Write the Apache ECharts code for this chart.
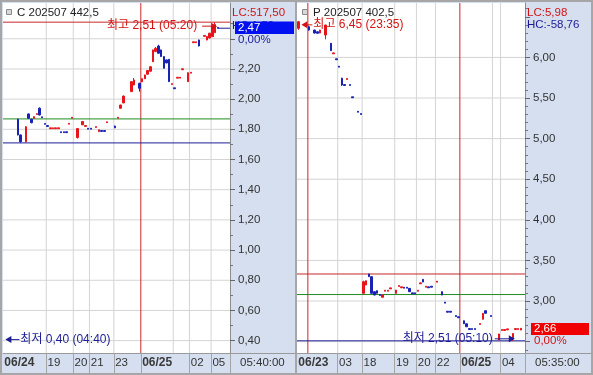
<!DOCTYPE html>
<html>
<head>
<meta charset="utf-8">
<script src="https://cdn.jsdelivr.net/npm/echarts@6.0.0/dist/echarts.min.js"></script>
<style>
html,body{margin:0;padding:0;overflow:hidden;background:#d5dfef;}
#chart{width:593px;height:375px;}
</style>
</head>
<body>
<div id="chart"></div>
<script>
// ---------------- data ----------------
const leftTitle = 'C 202507 442,5';
const rightTitle = 'P 202507 402,5';
const leftLC = 'LC:517,50', leftHC = 'HC:1,50';
const rightLC = 'LC:5,98', rightHC = 'HC:-58,76';
const leftPct = '0,00%', rightPct = '0,00%';
const leftTimeCell = '05:40:00', rightTimeCell = '05:35:00';

const leftSlotCount = 84;
const rightSlotCount = 84;

// [slot, open, close, low, high]
const leftCandles = [
 [5, 1.867, 1.763, 1.760, 1.870],
 [6, 1.763, 1.718, 1.710, 1.765],
 [8, 1.718, 1.817, 1.710, 1.820],
 [9, 1.902, 1.873, 1.870, 1.905],
 [10, 1.867, 1.844, 1.840, 1.870],
 [11, 1.873, 1.884, 1.870, 1.886],
 [12, 1.898, 1.904, 1.898, 1.904],
 [13, 1.940, 1.895, 1.893, 1.945],
 [14, 1.883, 1.877, 1.877, 1.883],
 [15, 1.839, 1.833, 1.833, 1.839],
 [16, 1.825, 1.819, 1.819, 1.825],
 [17, 1.804, 1.810, 1.804, 1.810],
 [18, 1.804, 1.810, 1.804, 1.810],
 [19, 1.804, 1.810, 1.804, 1.810],
 [20, 1.804, 1.810, 1.804, 1.810],
 [21, 1.784, 1.778, 1.778, 1.784],
 [22, 1.784, 1.778, 1.778, 1.784],
 [23, 1.784, 1.778, 1.778, 1.784],
 [24, 1.834, 1.840, 1.834, 1.840],
 [25, 1.874, 1.880, 1.874, 1.880],
 [27, 1.745, 1.805, 1.740, 1.807],
 [29, 1.830, 1.852, 1.828, 1.855],
 [30, 1.819, 1.825, 1.819, 1.825],
 [31, 1.807, 1.801, 1.801, 1.807],
 [32, 1.807, 1.801, 1.801, 1.807],
 [34, 1.812, 1.818, 1.812, 1.818],
 [35, 1.785, 1.797, 1.785, 1.797],
 [36, 1.792, 1.786, 1.786, 1.792],
 [37, 1.792, 1.786, 1.786, 1.792],
 [38, 1.844, 1.850, 1.844, 1.850],
 [41, 1.822, 1.810, 1.808, 1.824],
 [42, 1.874, 1.880, 1.874, 1.880],
 [43, 1.940, 1.961, 1.938, 1.963],
 [44, 1.975, 2.020, 1.973, 2.024],
 [47, 2.050, 2.116, 2.048, 2.118],
 [48, 2.094, 2.127, 2.092, 2.140],
 [50, 2.105, 2.072, 2.050, 2.108],
 [51, 2.115, 2.135, 2.113, 2.137],
 [52, 2.135, 2.160, 2.133, 2.162],
 [53, 2.165, 2.190, 2.163, 2.192],
 [54, 2.185, 2.215, 2.183, 2.217],
 [55, 2.248, 2.326, 2.246, 2.328],
 [56, 2.315, 2.337, 2.313, 2.345],
 [57, 2.352, 2.304, 2.302, 2.360],
 [58, 2.326, 2.282, 2.280, 2.328],
 [59, 2.282, 2.205, 2.203, 2.284],
 [60, 2.260, 2.240, 2.238, 2.262],
 [61, 2.264, 2.116, 2.114, 2.266],
 [62, 2.097, 2.103, 2.097, 2.103],
 [63, 2.075, 2.069, 2.069, 2.075],
 [64, 2.139, 2.145, 2.139, 2.145],
 [65, 2.139, 2.145, 2.139, 2.145],
 [66, 2.195, 2.201, 2.195, 2.201],
 [68, 2.116, 2.175, 2.114, 2.177],
 [69, 2.172, 2.178, 2.172, 2.178],
 [70, 2.374, 2.380, 2.374, 2.380],
 [71, 2.374, 2.380, 2.374, 2.380],
 [72, 2.392, 2.352, 2.350, 2.394],
 [74, 2.416, 2.422, 2.416, 2.422],
 [75, 2.392, 2.415, 2.390, 2.417],
 [76, 2.405, 2.437, 2.403, 2.439],
 [77, 2.414, 2.480, 2.412, 2.482],
 [78, 2.440, 2.495, 2.438, 2.510],
 [79, 2.475, 2.470, 2.468, 2.477]
];

const rightCandles = [
 [0, 6.358, 6.440, 6.340, 6.450],
 [4, 6.378, 6.337, 6.330, 6.390],
 [6, 6.337, 6.300, 6.295, 6.340],
 [7, 6.316, 6.297, 6.295, 6.318],
 [8, 6.300, 6.337, 6.298, 6.340],
 [10, 6.276, 6.399, 6.223, 6.402],
 [12, 6.174, 6.083, 6.080, 6.177],
 [13, 6.044, 6.056, 6.044, 6.056],
 [14, 5.983, 5.971, 5.971, 5.983],
 [15, 5.892, 5.880, 5.880, 5.892],
 [16, 5.743, 5.660, 5.650, 5.750],
 [17, 5.666, 5.654, 5.654, 5.666],
 [18, 5.728, 5.740, 5.728, 5.740],
 [19, 5.666, 5.654, 5.654, 5.666],
 [20, 5.515, 5.503, 5.503, 5.515],
 [22, 5.337, 5.325, 5.325, 5.337],
 [23, 5.309, 5.297, 5.297, 5.309],
 [24, 3.095, 3.238, 3.093, 3.250],
 [25, 3.197, 3.250, 3.195, 3.252],
 [26, 3.333, 3.300, 3.298, 3.335],
 [27, 3.300, 3.095, 3.093, 3.302],
 [28, 3.115, 3.074, 3.072, 3.117],
 [29, 3.127, 3.095, 3.093, 3.129],
 [30, 3.080, 3.068, 3.068, 3.080],
 [31, 3.046, 3.074, 3.044, 3.076],
 [32, 3.121, 3.133, 3.121, 3.133],
 [33, 3.121, 3.133, 3.121, 3.133],
 [34, 3.150, 3.162, 3.150, 3.162],
 [36, 3.095, 3.135, 3.093, 3.137],
 [37, 3.179, 3.191, 3.179, 3.191],
 [38, 3.163, 3.175, 3.163, 3.175],
 [39, 3.170, 3.158, 3.158, 3.170],
 [40, 3.170, 3.158, 3.158, 3.170],
 [41, 3.156, 3.115, 3.113, 3.158],
 [42, 3.101, 3.089, 3.089, 3.101],
 [43, 3.101, 3.089, 3.089, 3.101],
 [44, 3.121, 3.133, 3.121, 3.133],
 [45, 3.212, 3.224, 3.212, 3.224],
 [46, 3.267, 3.234, 3.232, 3.269],
 [47, 3.170, 3.182, 3.170, 3.182],
 [48, 3.175, 3.163, 3.163, 3.175],
 [49, 3.182, 3.170, 3.170, 3.182],
 [51, 3.232, 3.244, 3.232, 3.244],
 [53, 3.115, 3.074, 3.072, 3.117],
 [54, 2.986, 2.974, 2.974, 2.986],
 [55, 2.874, 2.862, 2.862, 2.874],
 [56, 2.874, 2.862, 2.862, 2.874],
 [58, 2.821, 2.809, 2.809, 2.821],
 [59, 2.806, 2.794, 2.794, 2.806],
 [61, 2.757, 2.720, 2.718, 2.759],
 [62, 2.720, 2.683, 2.681, 2.722],
 [63, 2.661, 2.649, 2.649, 2.661],
 [64, 2.661, 2.649, 2.649, 2.661],
 [65, 2.661, 2.649, 2.649, 2.661],
 [67, 2.711, 2.723, 2.711, 2.723],
 [68, 2.775, 2.849, 2.773, 2.851],
 [69, 2.881, 2.849, 2.847, 2.883],
 [71, 2.821, 2.809, 2.809, 2.821],
 [74, 2.520, 2.594, 2.518, 2.596],
 [75, 2.637, 2.649, 2.637, 2.649],
 [76, 2.637, 2.649, 2.637, 2.649],
 [77, 2.645, 2.657, 2.645, 2.657],
 [79, 2.530, 2.600, 2.510, 2.602],
 [80, 2.649, 2.661, 2.649, 2.661],
 [81, 2.649, 2.661, 2.649, 2.661],
 [82, 2.643, 2.664, 2.641, 2.666]
];

// x-axis tick labels (slot -> text), separators and grid lines (slot boundaries)
const leftXLabels = {0: '06/24', 16: '19', 26: '20', 32: '21', 41: '23', 51: '06/25', 69: '02', 77: '05'};
const rightXLabels = {0: '06/23', 15: '03', 24: '18', 36: '19', 44: '20', 51: '22', 60: '06/25', 75: '04'};
const boldLabels = ['06/23', '06/24', '06/25'];
const leftStripTicks = [16, 26, 32, 41, 51, 69, 77];
const rightStripTicks = [15, 24, 36, 44, 51, 60, 75];
const leftGridX = [16, 26, 32, 41, 63, 69, 77];
const rightGridX = [15, 24, 36, 44, 51, 72, 75];
const leftDayLines = [51];
const rightDayLines = [4, 60];

// y axes
const leftYMin = 0.318, leftYMax = 2.637;
const rightYMin = 2.36, rightYMax = 6.67;
const leftYLabels = [0.4, 0.6, 0.8, 1.0, 1.2, 1.4, 1.6, 1.8, 2.0, 2.2];
const leftYMajor = [0.4, 0.6, 0.8, 1.0, 1.2, 1.4, 1.6, 1.8, 2.0, 2.2, 2.4];
const leftYMinor = [0.5, 0.7, 0.9, 1.1, 1.3, 1.5, 1.7, 1.9, 2.1, 2.3, 2.5];
const leftGridY = [0.4, 0.6, 0.8, 1.0, 1.2, 1.4, 1.6, 1.8, 2.0, 2.2, 2.4];
const rightYLabels = [3.0, 3.5, 4.0, 4.5, 5.0, 5.5, 6.0];
const rightYMajor = [2.5, 3.0, 3.5, 4.0, 4.5, 5.0, 5.5, 6.0, 6.5];
const rightYMinor = [2.4, 2.6, 2.7, 2.8, 2.9, 3.1, 3.2, 3.3, 3.4, 3.6, 3.7, 3.8, 3.9, 4.1, 4.2, 4.3, 4.4,
  4.6, 4.7, 4.8, 4.9, 5.1, 5.2, 5.3, 5.4, 5.6, 5.7, 5.8, 5.9, 6.1, 6.2, 6.3, 6.4, 6.6];
const rightGridY = [2.5, 3.0, 3.5, 4.0, 4.5, 5.0, 5.5, 6.0];

// reference lines and annotations
const leftLevels = {high: 2.51, mid: 1.869, low: 1.71};
const rightLevels = {high: 3.333, mid: 3.08, low: 2.51};
const leftLast = 2.47, rightLast = 2.66;
const leftLastFrom = 79;
const leftHigh = {slot: 78, value: 2.51, text: '최고 2,51 (05:20)'};
const leftLow = {slot: 0, value: 0.40, text: '최저 0,40 (04:40)'};
const rightHigh = {slot: 0, value: 6.45, text: '최고 6,45 (23:35)'};
const rightLow = {slot: 79, value: 2.51, text: '최저 2,51 (05:10)'};

// ---------------- style ----------------
function hasFont(name) {
  const c = document.createElement('canvas').getContext('2d');
  const s = 'abcdefghijklmnopqrstuvwxyz0123456789,:';
  let diff = false;
  ['monospace', 'serif'].forEach(function (fb) {
    c.font = '30px ' + fb; const a = c.measureText(s).width;
    c.font = '30px "' + name + '", ' + fb; const b = c.measureText(s).width;
    if (a !== b) diff = true;
  });
  return diff;
}
const NARROW = hasFont('Liberation Sans Narrow');
const FAM = NARROW ? '"Liberation Sans Narrow", "Noto Sans CJK KR", sans-serif'
                   : '"Liberation Sans", "Noto Sans CJK KR", sans-serif';
const FS = NARROW ? 13 : 11.5;
const FONT = FS + 'px ' + FAM;
const FONT_HEAD = (NARROW ? 13 : 11.5) + 'px ' + FAM;
const FONT_ANN = (NARROW ? 13 : 12) + 'px ' + FAM;
const BOLD_FAM = '"Liberation Sans", "Noto Sans CJK KR", sans-serif';

const UP = '#e8141c', DOWN = '#1a22b4';
const GRID_C = '#d4d4d4';
const RED_LINE = '#c8282a', GREEN_LINE = '#228b22', NAVY_LINE = '#1e1e9a';
const TXT = '#333333', RED_TXT = '#d41414', NAVY_TXT = '#1c1c96';
const BG = '#d5dfef';

function toSeriesData(list, count) {
  const out = [];
  for (let i = 0; i < count; i++) out.push(['-', '-', '-', '-']);
  list.forEach(function (r) { out[r[0]] = [r[1], r[2], r[3], r[4]]; });
  return out;
}
function slotNames(count) { const a = []; for (let i = 0; i < count; i++) a.push(String(i)); return a; }
const fmt = function (v) { return v.toFixed(2).replace('.', ','); };

function catAxis(gridIndex, count, labels, stripTicks) {
  return {
    type: 'category', gridIndex: gridIndex, data: slotNames(count), boundaryGap: true,
    axisLine: {show: true, onZero: false, lineStyle: {color: '#9a9a9a', width: 1}},
    axisTick: {show: true, length: 20, interval: function (i) { return stripTicks.indexOf(i) >= 0; },
      lineStyle: {color: '#a4a4a4'}},
    axisLabel: {
      show: true, interval: function (i) { return labels[i] !== undefined; },
      formatter: function (v, i) { const t = labels[i]; return boldLabels.indexOf(t) >= 0 ? '{b|' + t + '}' : t; },
      align: 'left', margin: 4, color: TXT, fontFamily: FAM, fontSize: FS,
      rich: {b: {fontFamily: BOLD_FAM, fontWeight: 'bold', fontSize: 12, color: '#3a3a3a'}}
    },
    splitLine: {show: false}
  };
}
function valXAxis(gridIndex, count) {
  return {type: 'value', gridIndex: gridIndex, min: 0, max: count, show: false,
    axisLine: {onZero: false}, splitLine: {show: false}};
}
function yMajor(gridIndex, min, max, ticks, labels) {
  return {
    type: 'value', gridIndex: gridIndex, position: 'right', min: min, max: max, scale: true,
    axisLine: {show: true, onZero: false, lineStyle: {color: '#8c8c8c'}},
    axisTick: {show: true, length: 5, customValues: ticks, lineStyle: {color: '#666'}},
    axisLabel: {show: true, customValues: labels, formatter: fmt, margin: 8, color: TXT,
      fontFamily: FAM, fontSize: FS, verticalAlign: 'middle'},
    splitLine: {show: false}
  };
}
function yMinor(gridIndex, min, max, ticks) {
  return {
    type: 'value', gridIndex: gridIndex, position: 'right', min: min, max: max, scale: true,
    axisLine: {show: false, onZero: false},
    axisTick: {show: true, length: 3, customValues: ticks, lineStyle: {color: '#777'}},
    axisLabel: {show: false}, splitLine: {show: false}
  };
}
// straight guide lines drawn as two-point line series on the value x-axis
function seg(xIdx, yIdx, pts, color, z) {
  return {
    type: 'line', xAxisIndex: xIdx, yAxisIndex: yIdx, data: pts, z: z, silent: true,
    symbol: 'none', showSymbol: false, animation: false, color: color,
    lineStyle: {color: color, width: 1, type: 'solid', opacity: 1},
    emphasis: {disabled: true}, tooltip: {show: false}
  };
}
function hSegs(xIdx, yIdx, count, vals, color, z) {
  return vals.map(function (v) { return seg(xIdx, yIdx, [[0, v], [count, v]], color, z); });
}
function vSegs(xIdx, yIdx, yMin, yMax, bounds, color, z) {
  return bounds.map(function (b) { return seg(xIdx, yIdx, [[b, yMin], [b, yMax]], color, z); });
}
function candleSeries(xIdx, yIdx, list, count) {
  return {
    type: 'candlestick', xAxisIndex: xIdx, yAxisIndex: yIdx, z: 5, barWidth: 2,
    data: toSeriesData(list, count), animation: false,
    itemStyle: {color: UP, color0: DOWN, borderColor: UP, borderColor0: DOWN, borderWidth: 1}
  };
}

const series = [];
// anchor series for pixel conversion (index 0 = left, 1 = right)
series.push(seg(1, 0, [], GRID_C, 0));
series.push(seg(3, 2, [], GRID_C, 0));
// left panel
[].push.apply(series, hSegs(1, 0, leftSlotCount, leftGridY, GRID_C, 1));
[].push.apply(series, vSegs(1, 0, leftYMin, leftYMax, leftGridX, GRID_C, 1));
[].push.apply(series, vSegs(1, 0, leftYMin, leftYMax, leftDayLines, RED_LINE, 2));
[].push.apply(series, hSegs(1, 0, leftSlotCount, [leftLevels.high], RED_LINE, 2));
[].push.apply(series, hSegs(1, 0, leftSlotCount, [leftLevels.mid], GREEN_LINE, 2));
[].push.apply(series, hSegs(1, 0, leftSlotCount, [leftLevels.low], NAVY_LINE, 2));
series.push(seg(1, 0, [[leftLastFrom + 0.5, leftLast], [leftSlotCount, leftLast]], NAVY_LINE, 2));
series.push(candleSeries(0, 0, leftCandles, leftSlotCount));
// right panel
[].push.apply(series, hSegs(3, 2, rightSlotCount, rightGridY, GRID_C, 1));
[].push.apply(series, vSegs(3, 2, rightYMin, rightYMax, rightGridX, GRID_C, 1));
[].push.apply(series, vSegs(3, 2, rightYMin, rightYMax, rightDayLines, RED_LINE, 2));
[].push.apply(series, hSegs(3, 2, rightSlotCount, [rightLevels.high], RED_LINE, 2));
[].push.apply(series, hSegs(3, 2, rightSlotCount, [rightLevels.mid], GREEN_LINE, 2));
[].push.apply(series, hSegs(3, 2, rightSlotCount, [rightLevels.low], NAVY_LINE, 2));
series.push(candleSeries(2, 2, rightCandles, rightSlotCount));

const option = {
  animation: false,
  backgroundColor: BG,
  textStyle: {fontFamily: FAM},
  grid: [
    {left: 3, top: 3, width: 227, height: 350, show: true, backgroundColor: '#ffffff', borderWidth: 0},
    {left: 297, top: 3, width: 228, height: 350, show: true, backgroundColor: '#ffffff', borderWidth: 0}
  ],
  xAxis: [
    catAxis(0, leftSlotCount, leftXLabels, leftStripTicks),
    valXAxis(0, leftSlotCount),
    catAxis(1, rightSlotCount, rightXLabels, rightStripTicks),
    valXAxis(1, rightSlotCount)
  ],
  yAxis: [
    yMajor(0, leftYMin, leftYMax, leftYMajor, leftYLabels),
    yMinor(0, leftYMin, leftYMax, leftYMinor),
    yMajor(1, rightYMin, rightYMax, rightYMajor, rightYLabels),
    yMinor(1, rightYMin, rightYMax, rightYMinor)
  ],
  series: series
};

const chart = echarts.init(document.getElementById('chart'), null, {renderer: 'canvas'});
chart.setOption(option);

// ---------------- overlay texts (positioned through the axes) ----------------
function px(panel, slot, v) {
  return chart.convertToPixel({seriesIndex: panel === 0 ? 0 : 1}, [slot + 0.5, v]);
}
const G = [];
function txt(x, y, t, fill, align, z, font) {
  G.push({type: 'text', x: x, y: y, z: z || 50, silent: true,
    style: {text: t, fill: fill || TXT, font: font || FONT, align: align || 'left', verticalAlign: 'middle'}});
}
function rect(x, y, w, h, fill, z) {
  G.push({type: 'rect', shape: {x: x, y: y, width: w, height: h}, z: z || 40, silent: true, style: {fill: fill}});
}
function line(x1, y1, x2, y2, stroke, z) {
  G.push({type: 'line', shape: {x1: x1, y1: y1, x2: x2, y2: y2}, z: z || 45, silent: true,
    style: {stroke: stroke, lineWidth: 1}});
}
function tri(pts, fill) {
  G.push({type: 'polygon', shape: {points: pts}, z: 60, silent: true, style: {fill: fill}});
}

// borders
rect(0, 0, 593, 2, '#a6a6a6', 90);
rect(0, 373, 593, 2, '#a6a6a6', 90);
rect(0, 0, 2, 375, '#a6a6a6', 90);
rect(295, 0, 2, 375, '#a6a6a6', 90);
rect(591, 0, 2, 375, '#a6a6a6', 90);
// strip top line under y-axis areas
line(230, 353.5, 295, 353.5, '#9a9a9a');
line(525, 353.5, 591, 353.5, '#9a9a9a');
txt(240, 363, leftTimeCell, TXT);
txt(535, 363, rightTimeCell, TXT);

// headers
G.push({type: 'rect', shape: {x: 6.5, y: 9.5, width: 5, height: 5}, z: 50, silent: true,
  style: {fill: '#d8d8d8', stroke: '#8a8a8a', lineWidth: 1}});
txt(17, 13, leftTitle, '#222', 'left', 50, FONT_HEAD);
G.push({type: 'rect', shape: {x: 302.5, y: 9.5, width: 5, height: 5}, z: 50, silent: true,
  style: {fill: '#d8d8d8', stroke: '#8a8a8a', lineWidth: 1}});
txt(313, 13, rightTitle, '#222', 'left', 50, FONT_HEAD);
txt(232, 13, leftLC, RED_TXT, 'left', 50, FONT_HEAD);
txt(232, 26, leftHC, NAVY_TXT, 'left', 30, FONT_HEAD);
txt(527, 13, rightLC, RED_TXT, 'left', 50, FONT_HEAD);
txt(527, 25, rightHC, NAVY_TXT, 'left', 50, FONT_HEAD);

// current price boxes
const lp = px(0, 0, leftLast);
rect(235, Math.round(lp[1]) - 6.5, 59, 12.5, '#0010f0', 55);
txt(238, lp[1], fmt(leftLast), '#ffffff', 'left', 56, FONT_HEAD);
txt(238, lp[1] + 12, leftPct, NAVY_TXT, 'left', 50, FONT_HEAD);
const rp = px(1, 0, rightLast);
rect(531, Math.round(rp[1]) - 6, 58, 12, '#f00000', 55);
txt(534, rp[1], fmt(rightLast), '#ffffff', 'left', 56, FONT_HEAD);
txt(534, rp[1] + 12, rightPct, RED_TXT, 'left', 50, FONT_HEAD);

// annotations: highest / lowest
(function () {
  const p = px(0, leftHigh.slot, leftHigh.value);
  const tip = p[0] + 2, cy = p[1] + 4;
  tri([[tip - 6, cy - 3.5], [tip, cy], [tip - 6, cy + 3.5]], RED_TXT);
  line(tip - 15, cy, tip - 5, cy, RED_TXT, 58);
  txt(tip - 20, cy, leftHigh.text, RED_TXT, 'right', 58, FONT_ANN);
})();
(function () {
  const p = px(0, leftLow.slot, leftLow.value);
  const tip = p[0] + 1, cy = p[1] - 1;
  tri([[tip + 6, cy - 3.5], [tip, cy], [tip + 6, cy + 3.5]], NAVY_TXT);
  line(tip + 5, cy, tip + 14, cy, NAVY_TXT, 58);
  txt(tip + 15, cy, leftLow.text, NAVY_TXT, 'left', 58, FONT_ANN);
})();
(function () {
  const p = px(1, rightHigh.slot, rightHigh.value);
  const tip = p[0] + 3, cy = p[1] + 4;
  tri([[tip + 6, cy - 3.5], [tip, cy], [tip + 6, cy + 3.5]], RED_TXT);
  line(tip + 5, cy, tip + 11, cy, RED_TXT, 58);
  txt(tip + 12, cy, rightHigh.text, RED_TXT, 'left', 58, FONT_ANN);
})();
(function () {
  const p = px(1, rightLow.slot, rightLow.value);
  const tip = p[0] + 2, cy = p[1] - 2;
  tri([[tip - 6, cy - 3.5], [tip, cy], [tip - 6, cy + 3.5]], NAVY_TXT);
  line(tip - 20, cy, tip - 5, cy, NAVY_TXT, 58);
  txt(tip - 22, cy, rightLow.text, NAVY_TXT, 'right', 58, FONT_ANN);
})();

chart.setOption({graphic: G});
</script>
</body>
</html>
